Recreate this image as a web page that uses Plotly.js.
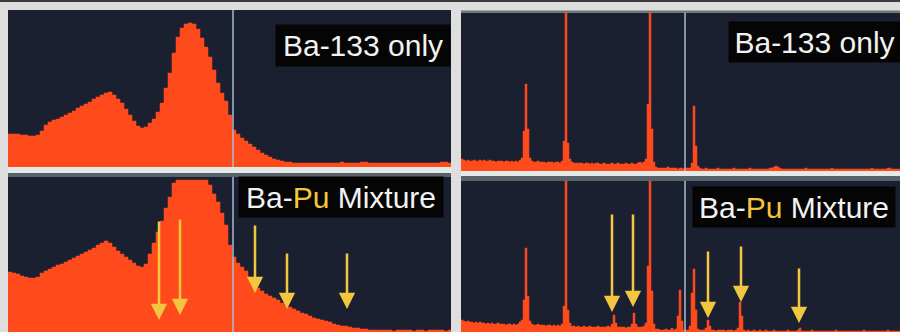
<!DOCTYPE html>
<html>
<head>
<meta charset="utf-8">
<script src="https://cdn.plot.ly/plotly-3.0.1.min.js"></script>
<style>
  html, body { margin: 0; padding: 0; background: #dedede; overflow: hidden; }
  #chart { width: 900px; height: 336px; }
</style>
</head>
<body>
<div id="chart"></div>
<script>
// ---- DATA ----
// Low-resolution spectra (left panels), counts per channel (arbitrary units)
const lowResBa = [
  33,33,33,32,32,31,31,32,36,42,
  45,47,48,50,52,54,56,59,61,63,
  65,68,70,72,74,75,72,68,64,58,
  52,46,41,39,40,44,48,55,64,79,
  94,114,130,139,143,144,143,138,129,120,
  110,97,84,74,66,52,37,33,29,26,
  23,20,17,14,12,10,8,7,6,5,
  5,4,4,4,4,4,4,4,4,4,
  4,4,4,5,4,4,4,4,5,5,
  4,4,4,4,4,4,4,4,4,4,
  4,4,4,4,4,4,4,4,5,5,4
];
const lowResMix = [
  64,63,62,60,59,58,58,59,63,65,
  67,69,71,72,74,76,78,80,82,84,
  86,88,91,93,95,93,89,85,82,79,
  76,73,70,69,72,82,93,104,115,128,
  139,153,156,156,156,156,156,156,156,156,
  151,142,134,123,111,91,79,73,69,65,
  59,54,48,45,42,40,38,36,33,31,
  29,27,25,23,22,20,18,17,16,15,
  14,12,11,10,10,9,8,8,7,7,
  6,6,6,6,6,6,5,6,6,6,
  6,5,6,6,5,6,6,6,6,5,6
];
// High-resolution spectra (right panels)
const highResBa = [
  12,11,10,11,10,10,11,10,10,11,
  10,11,10,10,11,10,10,9,10,10,
  10,9,10,10,9,10,9,10,9,11,
  13,40,87,42,13,10,9,9,10,9,
  9,9,8,9,9,9,8,9,9,8,
  10,30,170,28,12,9,8,8,8,8,
  8,7,8,8,7,8,7,8,8,7,
  7,8,7,7,7,8,7,7,8,7,
  7,7,8,7,7,8,7,7,8,9,
  8,9,12,67,170,42,9,4,3,3,
  3,3,3,4,3,3,3,3,2,3,
  3,2,3,3,3,8,65,25,5,3,
  2,2,3,2,2,2,2,2,3,2,
  2,2,2,2,2,2,3,2,2,2,
  2,2,2,2,3,2,2,2,2,2,
  2,2,2,2,3,3,4,5,4,3,
  2,2,2,2,2,2,2,2,2,2,
  2,2,3,2,2,2,2,2,2,2,
  2,2,2,2,2,3,2,2,2,2,
  2,2,2,2,2,2,2,2,2,2,
  2,2,2,2,2,3,2,2,2,2,
  2,2,2,3,3,2,2,2,2,2
];
const highResMix = [
  16,15,14,15,14,14,13,14,13,14,
  13,13,12,13,12,13,12,12,13,12,
  12,12,11,12,12,11,12,11,12,14,
  16,36,88,40,15,12,11,11,12,11,
  11,11,10,11,11,10,11,10,11,10,
  12,30,170,26,13,10,10,9,10,9,
  9,10,9,9,10,9,9,9,10,9,
  9,9,9,10,9,12,21,13,9,9,
  9,9,8,9,9,12,23,12,9,9,
  9,10,13,70,170,45,12,7,7,6,
  6,6,7,6,6,8,6,7,20,46,
  15,6,6,6,10,43,67,26,7,6,
  6,6,8,16,10,6,6,5,6,6,
  6,6,5,6,6,6,5,6,8,34,
  20,6,5,6,5,5,6,5,5,6,
  5,5,6,5,5,5,6,5,5,5,
  5,5,5,6,5,5,5,5,6,8,
  5,5,5,5,5,6,5,5,5,5,
  5,5,5,5,5,5,5,6,5,5,
  5,5,5,5,5,5,5,5,5,5,
  5,6,5,5,5,5,5,5,5,5,
  5,5,5,6,5,5,5,5,5,5
];
// Marker channels (vertical cursor lines)
const lowResCursor = 56.25;
const highResCursor = 112;
// Pu lines (arrows): channel, arrow tip height, arrow tail height
const lowPuChan = [37.75, 43, 61.75, 69.75, 84.75];
const lowPuTip  = [16, 21, 43, 27, 27];
const lowPuTail = [116, 118, 112, 84, 84];
const highPuChan = [75.5, 86, 123.5, 140, 169];
const highPuTip  = [24, 29, 18, 34, 13];
const highPuTail = [123, 123, 86, 91, 69];
// Labels
const labelBa = 'Ba-133 only';
const labelMix = 'Ba-<span style="color:#f4c63a">Pu</span> Mixture';

// ---- BUILD ----
const W = 900, H = 336;
const px = x => x / W;
const py = y => (H - y) / H;
const FILL = '#ff4a1c';
const BG = '#1b2030';
const ARROW = '#f3c640';

function stepTrace(vals, xa, ya) {
  const xs = vals.map((_, i) => i);
  xs.push(vals.length);
  const ys = vals.slice();
  ys.push(vals[vals.length - 1]);
  return {
    x: xs, y: ys, xaxis: xa, yaxis: ya, type: 'scatter', mode: 'lines',
    line: { shape: 'hv', width: 0.5, color: FILL },
    fill: 'tozeroy', fillcolor: FILL, hoverinfo: 'skip', showlegend: false
  };
}

const data = [
  stepTrace(lowResBa, 'x', 'y'),
  stepTrace(lowResMix, 'x2', 'y2'),
  stepTrace(highResBa, 'x3', 'y3'),
  stepTrace(highResMix, 'x4', 'y4')
];

const hidden = { showgrid: false, zeroline: false, showticklabels: false, ticks: '', showline: false, fixedrange: true };
const leftDom = [px(8), px(451)];
const rightDom = [px(461), 1];

const layout = {
  width: W, height: H,
  margin: { l: 0, r: 0, t: 0, b: 0, pad: 0 },
  paper_bgcolor: '#dedede',
  plot_bgcolor: BG,
  showlegend: false,
  xaxis:  Object.assign({}, hidden, { domain: leftDom, range: [0, lowResBa.length - 0.25], anchor: 'y' }),
  yaxis:  Object.assign({}, hidden, { domain: [py(167), py(10)], range: [0, 157], anchor: 'x' }),
  xaxis2: Object.assign({}, hidden, { domain: leftDom, range: [0, lowResMix.length - 0.25], anchor: 'y2' }),
  yaxis2: Object.assign({}, hidden, { domain: [0, py(177)], range: [0, 159], anchor: 'x2' }),
  xaxis3: Object.assign({}, hidden, { domain: rightDom, range: [0, highResBa.length - 0.5], anchor: 'y3' }),
  yaxis3: Object.assign({}, hidden, { domain: [py(171), py(12.5)], range: [0, 158.5], anchor: 'x3' }),
  xaxis4: Object.assign({}, hidden, { domain: rightDom, range: [0, highResMix.length - 0.5], anchor: 'y4' }),
  yaxis4: Object.assign({}, hidden, { domain: [0, py(181)], range: [0, 155], anchor: 'x4' }),
  shapes: [],
  annotations: []
};

// frame decorations
const S = layout.shapes;
S.push({ type: 'rect', xref: 'paper', yref: 'paper', x0: 0, x1: 1, y0: py(2), y1: 1, fillcolor: '#3a3a3a', line: { width: 0 }, layer: 'above' });
S.push({ type: 'rect', xref: 'paper', yref: 'paper', x0: leftDom[0], x1: leftDom[1], y0: py(173), y1: py(167), fillcolor: '#e3eae7', line: { width: 0 }, layer: 'above' });
S.push({ type: 'rect', xref: 'paper', yref: 'paper', x0: leftDom[0], x1: leftDom[1], y0: py(177), y1: py(173), fillcolor: '#58626a', line: { width: 0 }, layer: 'above' });
S.push({ type: 'rect', xref: 'paper', yref: 'paper', x0: rightDom[0], x1: rightDom[1], y0: py(176), y1: py(171), fillcolor: '#e3eae7', line: { width: 0 }, layer: 'above' });
S.push({ type: 'rect', xref: 'paper', yref: 'paper', x0: rightDom[0], x1: rightDom[1], y0: py(181), y1: py(176), fillcolor: '#58626a', line: { width: 0 }, layer: 'above' });
S.push({ type: 'rect', xref: 'paper', yref: 'paper', x0: rightDom[0], x1: rightDom[1], y0: py(12.5), y1: py(10.5), fillcolor: '#6d7676', line: { width: 0 }, layer: 'above' });

// cursor lines
[['x', 'y', lowResCursor], ['x2', 'y2', lowResCursor], ['x3', 'y3', highResCursor], ['x4', 'y4', highResCursor]].forEach(([xa, ya, c]) => {
  S.push({ type: 'line', xref: xa, yref: ya + ' domain', x0: c, x1: c, y0: 0, y1: 1, line: { color: '#a9bbd0', width: 1.5 }, layer: 'above' });
});

// arrows
const A = layout.annotations;
function arrows(chan, tip, tail, xa, ya) {
  chan.forEach((c, i) => {
    A.push({ xref: xa, yref: ya, axref: xa, ayref: ya, x: c, y: tip[i], ax: c, ay: tail[i],
      text: '', showarrow: true, arrowhead: 2, arrowsize: 1.3, arrowwidth: 2.5, arrowcolor: ARROW, standoff: 0 });
  });
}
arrows(lowPuChan, lowPuTip, lowPuTail, 'x2', 'y2');
arrows(highPuChan, highPuTip, highPuTail, 'x4', 'y4');

// labels
function label(text, cx, cy, w, h) {
  A.push({ xref: 'paper', yref: 'paper', x: px(cx), y: py(cy), xanchor: 'center', yanchor: 'middle',
    text: text, showarrow: false, bgcolor: '#050505', borderpad: 0, width: w, height: h,
    align: 'center', valign: 'middle',
    font: { family: 'Liberation Sans, Arial, sans-serif', size: 30, color: '#f2f2f2' } });
}
label(labelBa, 363, 45.5, 174, 41);
label(labelBa, 814.5, 42, 171, 40);
label(labelMix, 341, 197, 204, 40);
label(labelMix, 794, 207, 202, 40);

Plotly.newPlot('chart', data, layout, { staticPlot: true, displayModeBar: false });
</script>
</body>
</html>
